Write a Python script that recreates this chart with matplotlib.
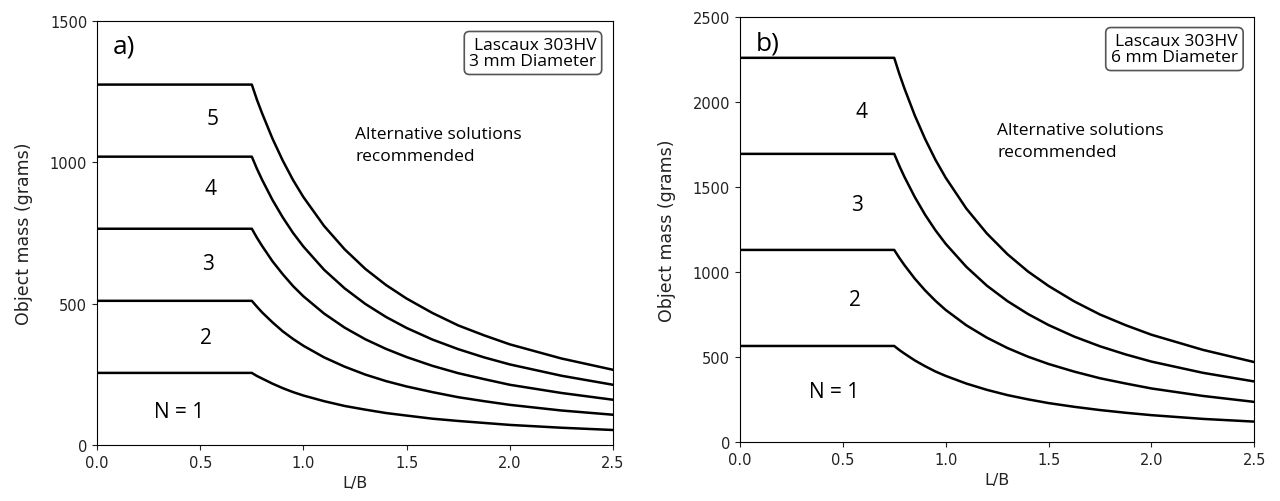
import matplotlib
matplotlib.use('Agg')
import matplotlib.pyplot as plt

# L/B values where the curves were read
lb = [0.0, 0.75, 0.775, 0.8, 0.85, 0.9, 0.95, 1.0, 1.1, 1.2, 1.3, 1.4, 1.5,
      1.625, 1.75, 1.875, 2.0, 2.25, 2.5]

# panel a) 3 mm diameter, N = 1..5
a_n1 = [255, 255, 244, 235, 217, 201, 187, 175, 155, 138, 125, 113, 104, 93, 85, 78, 71, 61, 53]
a_n2 = [510, 510, 489, 469, 434, 402, 375, 351, 310, 277, 249, 226, 207, 187, 169, 155, 142, 122, 107]
a_n3 = [765, 765, 733, 704, 650, 604, 562, 526, 465, 415, 374, 340, 311, 280, 254, 233, 213, 184, 160]
a_n4 = [1020, 1020, 977, 938, 867, 805, 750, 702, 620, 554, 499, 453, 414, 373, 339, 310, 285, 245, 213]
a_n5 = [1275, 1275, 1221, 1173, 1084, 1006, 937, 877, 775, 692, 623, 566, 518, 467, 423, 388, 356, 306, 266]

# panel b) 6 mm diameter, N = 1..4
b_n1 = [565, 565, 541, 520, 480, 446, 415, 389, 344, 307, 276, 251, 229, 207, 188, 172, 158, 136, 120]
b_n2 = [1130, 1130, 1083, 1040, 961, 892, 831, 777, 687, 614, 553, 502, 459, 414, 375, 344, 315, 271, 236]
b_n3 = [1695, 1695, 1624, 1559, 1441, 1337, 1246, 1166, 1031, 920, 829, 753, 688, 620, 563, 515, 473, 407, 356]
b_n4 = [2260, 2260, 2165, 2079, 1921, 1783, 1661, 1555, 1374, 1227, 1105, 1003, 918, 827, 750, 687, 631, 542, 470]

a_labels = ['N = 1', '2', '3', '4', '5']
a_label_pos = [(0.40, 117), (0.53, 380), (0.54, 642), (0.55, 908), (0.56, 1156)]
b_labels = ['N = 1', '2', '3', '4']
b_label_pos = [(0.46, 300), (0.56, 841), (0.57, 1400), (0.59, 1947)]

note_font = 'Open Sans'

fig = plt.figure(figsize=(12.8, 5.02), dpi=100)
ax1 = fig.add_axes([0.0758, 0.1116, 0.4031, 0.8446])
ax2 = fig.add_axes([0.578, 0.1175, 0.402, 0.8466])


def draw_panel(ax, curves, labels, label_pos, ymax, yticks, tag, diam, alt_y):
    for c in curves:
        ax.plot(lb, c, color='black', lw=1.8)
    for lab, (x, y) in zip(labels, label_pos):
        ax.text(x, y, lab, fontsize=15, family=note_font, ha='center', va='center')
    ax.text(1.25, alt_y, 'Alternative solutions\nrecommended', fontsize=12.5,
            family=note_font, ha='left', va='center', linespacing=1.5)
    ax.text(0.03, 0.94, tag, transform=ax.transAxes, fontsize=19,
            family=note_font, ha='left', va='center')
    ax.text(0.968, 0.963, 'Lascaux 303HV\n' + diam, transform=ax.transAxes,
            fontsize=12.5, family=note_font, ha='right', va='top', linespacing=1.05,
            bbox=dict(boxstyle='round,pad=0.3', fc='white', ec='#555555', lw=1.2))
    ax.set_xlim(0, 2.5)
    ax.set_ylim(0, ymax)
    ax.set_xticks([0.0, 0.5, 1.0, 1.5, 2.0, 2.5])
    ax.set_yticks(yticks)
    ax.tick_params(labelsize=10.5, colors='#222222')
    ax.set_xlabel('L/B', fontsize=11.5, color='#222222')
    ax.set_ylabel('Object mass (grams)', fontsize=12.5, color='#222222', labelpad=12)


draw_panel(ax1, [a_n1, a_n2, a_n3, a_n4, a_n5], a_labels, a_label_pos,
           1500, [0, 500, 1000, 1500], 'a)', '3 mm Diameter', 1060)
draw_panel(ax2, [b_n1, b_n2, b_n3, b_n4], b_labels, b_label_pos,
           2500, [0, 500, 1000, 1500, 2000, 2500], 'b)', '6 mm Diameter', 1773)

fig.savefig('out.png', dpi=100)
